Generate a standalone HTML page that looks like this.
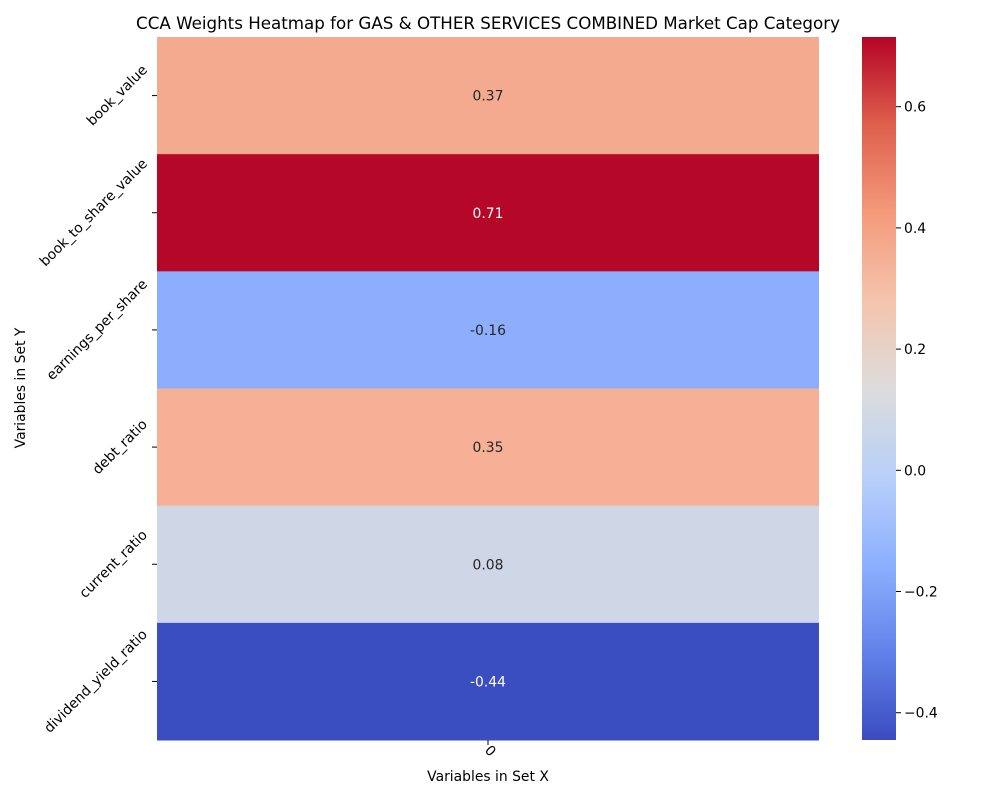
<!DOCTYPE html>
<html><head><meta charset="utf-8"><style>
body{margin:0;background:#fff}
svg text{font-family:"DejaVu Sans","Liberation Sans",sans-serif}
</style></head><body>
<svg id="chart" width="1000" height="800" xmlns="http://www.w3.org/2000/svg">
<defs>
<linearGradient id="cw" x1="0" y1="1" x2="0" y2="0">
<stop offset="0" stop-color="rgb(58,76,192)"/>
<stop offset="0.125" stop-color="rgb(98,130,234)"/>
<stop offset="0.25" stop-color="rgb(141,176,254)"/>
<stop offset="0.375" stop-color="rgb(184,208,249)"/>
<stop offset="0.5" stop-color="rgb(221,220,220)"/>
<stop offset="0.625" stop-color="rgb(245,196,173)"/>
<stop offset="0.75" stop-color="rgb(244,154,123)"/>
<stop offset="0.875" stop-color="rgb(222,96,77)"/>
<stop offset="1" stop-color="rgb(180,4,38)"/>
</linearGradient>
</defs>
<text x="488" y="29" font-size="16.7" text-anchor="middle">CCA Weights Heatmap for GAS &amp; OTHER SERVICES COMBINED Market Cap Category</text>
<g id="cells"></g>
<g id="ylabels"></g>
<line x1="488" y1="740" x2="488" y2="745" stroke="#000"/>
<text transform="translate(484,751) rotate(45)" font-size="13.9" text-anchor="start">0</text>
<text x="488" y="781" font-size="13.9" text-anchor="middle">Variables in Set X</text>
<text transform="translate(25,388) rotate(-90)" font-size="13.9" text-anchor="middle">Variables in Set Y</text>
<rect x="862" y="37" width="34" height="703" fill="url(#cw)"/>
<g id="cbticks"></g>
</svg>
<script>
const categories = ["book_value","book_to_share_value","earnings_per_share","debt_ratio","current_ratio","dividend_yield_ratio"];
const values = [0.37,0.71,-0.16,0.35,0.08,-0.44];
const labels = ["0.37","0.71","-0.16","0.35","0.08","-0.44"];
const cbTicks = [-0.4,-0.2,0.0,0.2,0.4,0.6];
const cbTickLabels = ["\u22120.4","\u22120.2","0.0","0.2","0.4","0.6"];
const vmin = -0.445, vmax = 0.715;

const NS="http://www.w3.org/2000/svg";
const stops=[[0,58,76,192],[0.125,98,130,234],[0.25,141,176,254],[0.375,184,208,249],[0.5,221,220,220],[0.625,245,196,173],[0.75,244,154,123],[0.875,222,96,77],[1,180,4,38]];
function cmap(v){let t=Math.max(0,Math.min(1,(v-vmin)/(vmax-vmin)));
 for(let i=0;i<stops.length-1;i++){const a=stops[i],b=stops[i+1];if(t<=b[0]){const f=(t-a[0])/(b[0]-a[0]);
 return [0,1,2].map(k=>Math.round(a[k+1]+(b[k+1]-a[k+1])*f));}}return [180,4,38];}
const X0=157,X1=819,Y0=37,Y1=740;
const rowH=(Y1-Y0)/categories.length;
function yPos(i){return Y0+i*rowH;}
function cbY(v){return Y1-(v-vmin)/(vmax-vmin)*(Y1-Y0);}
const cells=document.getElementById('cells'), yl=document.getElementById('ylabels'), cb=document.getElementById('cbticks');
function mk(tag,attrs,parent){const e=document.createElementNS(NS,tag);for(const k in attrs)e.setAttribute(k,attrs[k]);parent.appendChild(e);return e;}
categories.forEach((c,i)=>{
 const col=cmap(values[i]);
 const r=mk('rect',{x:X0,y:yPos(i),width:X1-X0,height:rowH+0.5,fill:`rgb(${col})`},cells);
 
 
 const lum=0.299*col[0]+0.587*col[1]+0.114*col[2];
 const t=mk('text',{x:(X0+X1)/2,y:yPos(i)+rowH/2+5,'font-size':13.9,'text-anchor':'middle',fill:lum<140?'#fff':'#262626'},cells);
 t.textContent=labels[i];
 
 
 const yc=yPos(i)+rowH/2;
 const tk=mk('line',{x1:152,x2:157,y1:yc,y2:yc,stroke:'#000'},yl);
 
 
 const lt=mk('text',{'font-size':13.9,'text-anchor':'end'},yl);
 lt.textContent=c;
 
 
 const w=lt.getComputedTextLength();
 const d=w/Math.SQRT2/2;
 lt.setAttribute('transform',`translate(148,${yc-d+3}) rotate(-45)`);
});
cbTicks.forEach((v,i)=>{
 const y=cbY(v);
 const l=mk('line',{x1:896,x2:901,y1:y,y2:y,stroke:'#000'},cb);
 
 
 const t=mk('text',{x:904,y:y+5,'font-size':13.9},cb);
 t.textContent=cbTickLabels[i];
 
 
});
</script>
</body></html>
